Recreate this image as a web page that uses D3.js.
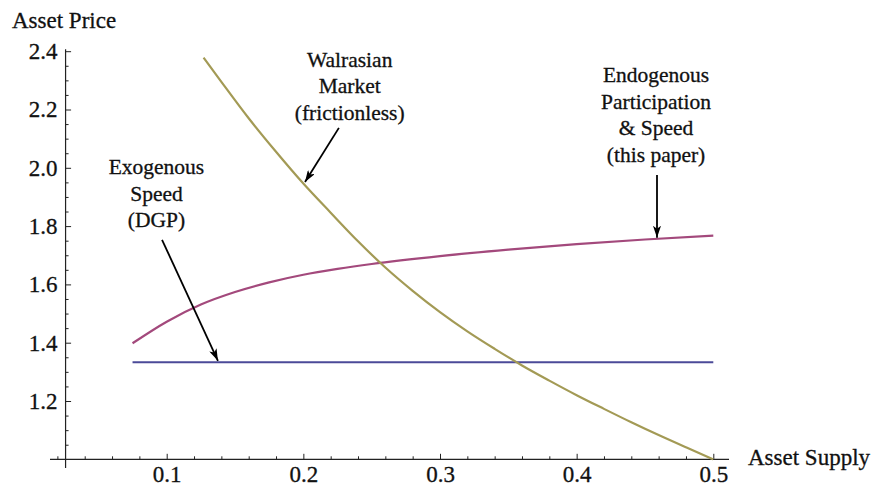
<!DOCTYPE html>
<html>
<head>
<meta charset="utf-8">
<script src="https://d3js.org/d3.v7.min.js"></script>
<style>
  body { margin: 0; background: #fff; }
  svg text { font-family: "Liberation Serif", "DejaVu Serif", serif; fill: #111; stroke: #111; stroke-width: 0.3; }
</style>
</head>
<body>
<svg id="chart" width="876" height="486"></svg>
<script>
// asset supply grid and the three price curves
var walrasX = [0.127, 0.14, 0.16, 0.18, 0.2, 0.22, 0.24, 0.26, 0.28, 0.3, 0.32, 0.34, 0.36, 0.38, 0.4, 0.42, 0.44, 0.46, 0.48, 0.5];
var walrasY = [2.378, 2.295, 2.170, 2.055, 1.946, 1.846, 1.748, 1.658, 1.578, 1.505, 1.439, 1.379, 1.322, 1.270, 1.220, 1.173, 1.127, 1.083, 1.041, 1.0];
var endoX = [0.075, 0.1, 0.125, 0.15, 0.175, 0.2, 0.225, 0.25, 0.3, 0.35, 0.4, 0.45, 0.5];
var endoY = [1.398, 1.472, 1.531, 1.574, 1.607, 1.633, 1.653, 1.670, 1.697, 1.719, 1.738, 1.754, 1.767];
var exoX = [0.075, 0.5];
var exoY = [1.333, 1.333];

var xTicks = [0.1, 0.2, 0.3, 0.4, 0.5];
var yTicks = [1.2, 1.4, 1.6, 1.8, 2.0, 2.2, 2.4];

// annotations: label lines, text anchor and arrow (tail -> tip) in data units
var notes = [
  { lines: ["Exogenous", "Speed", "(DGP)"], tx: 0.0925, ty: 1.978, from: [0.0966, 1.753], to: [0.1375, 1.338] },
  { lines: ["Walrasian", "Market", "(frictionless)"], tx: 0.2339, ty: 2.346, from: [0.226, 2.137], to: [0.2012, 1.951] },
  { lines: ["Endogenous", "Participation", "& Speed", "(this paper)"], tx: 0.4581, ty: 2.294, from: [0.4588, 1.975], to: [0.4588, 1.760] }
];

var svg = d3.select("#chart");

var x = d3.scaleLinear().domain([0.1, 0.5]).range([166.7, 713.3]);
var y = d3.scaleLinear().domain([1.0, 2.4]).range([459.3, 51.2]);

var xOrigin = 0.026;

// x axis
var gx = svg.append("g").attr("transform", "translate(0," + y(1.0) + ")");
gx.append("line").attr("x1", x(0.0146)).attr("x2", x(0.5115)).attr("stroke", "#222").attr("stroke-width", 1.2);
var xMinor = d3.range(1, 26).map(d => d * 0.02).filter(d => Math.abs(d * 10 - Math.round(d * 10)) > 1e-6);
gx.append("g").call(d3.axisBottom(x).tickValues(xMinor).tickSizeInner(-3).tickSizeOuter(0).tickFormat(""))
  .call(g => g.select(".domain").remove());
gx.append("g").call(d3.axisBottom(x).tickValues(xTicks).tickSizeInner(-5.5).tickSizeOuter(0).tickPadding(6).tickFormat(d3.format(".1f")))
  .call(g => g.select(".domain").remove())
  .selectAll("text").attr("font-size", 23).attr("font-family", "Liberation Serif").attr("fill", "#111");

// y axis
var gy = svg.append("g").attr("transform", "translate(" + x(xOrigin) + ",0)");
gy.append("line").attr("y1", y(0.97)).attr("y2", y(2.407)).attr("stroke", "#222").attr("stroke-width", 1.2);
var yMinor = d3.range(21, 49).map(d => d * 0.05).filter(d => Math.abs(d * 5 - Math.round(d * 5)) > 1e-6);
gy.append("g").call(d3.axisLeft(y).tickValues(yMinor).tickSizeInner(-3).tickSizeOuter(0).tickFormat(""))
  .call(g => g.select(".domain").remove());
gy.append("g").call(d3.axisLeft(y).tickValues(yTicks).tickSizeInner(-5.5).tickSizeOuter(0).tickPadding(8).tickFormat(d3.format(".1f")))
  .call(g => g.select(".domain").remove())
  .selectAll("text").attr("font-size", 23).attr("font-family", "Liberation Serif").attr("fill", "#111");

svg.selectAll(".tick line").attr("stroke", "#222");

// axis titles
svg.append("text").attr("x", 12).attr("y", 28).attr("font-size", 23).text("Asset Price");
svg.append("text").attr("x", 748).attr("y", 465).attr("font-size", 23).text("Asset Supply");

// curves
var line = d3.line().x(d => x(d[0])).y(d => y(d[1])).curve(d3.curveMonotoneX);
var series = [
  { xs: exoX, ys: exoY, color: "#4b4a98" },
  { xs: endoX, ys: endoY, color: "#a3497c" },
  { xs: walrasX, ys: walrasY, color: "#a39a55" }
];
series.forEach(function(s) {
  svg.append("path")
    .datum(s.xs.map((v, i) => [v, s.ys[i]]))
    .attr("fill", "none").attr("stroke", s.color).attr("stroke-width", 2.2)
    .attr("d", line);
});

// arrows
svg.append("defs").append("marker")
  .attr("id", "head").attr("viewBox", "0 0 12 8").attr("refX", 12).attr("refY", 4)
  .attr("markerWidth", 12).attr("markerHeight", 8).attr("markerUnits", "userSpaceOnUse")
  .attr("orient", "auto")
  .append("path").attr("d", "M0,0 L12,4 L0,8 L3,4 Z").attr("fill", "#000");

notes.forEach(function(n) {
  svg.append("line")
    .attr("x1", x(n.from[0])).attr("y1", y(n.from[1]))
    .attr("x2", x(n.to[0])).attr("y2", y(n.to[1]))
    .attr("stroke", "#000").attr("stroke-width", 1.8)
    .attr("marker-end", "url(#head)");
  var t = svg.append("text").attr("text-anchor", "middle").attr("font-size", 21.5)
    .attr("x", x(n.tx)).attr("y", y(n.ty));
  n.lines.forEach(function(l, i) {
    t.append("tspan").attr("x", x(n.tx)).attr("dy", i === 0 ? 0 : 26.5).text(l);
  });
});
</script>
</body>
</html>
